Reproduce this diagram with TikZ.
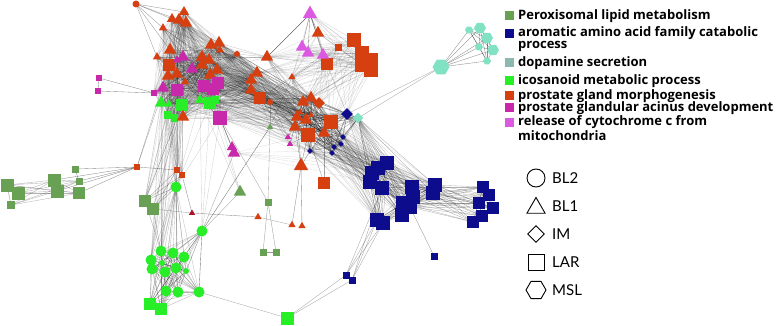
\documentclass[tikz,border=0pt]{standalone}
\usepackage{fontspec}
\setmainfont{Lato}
\newfontfamily\legfont{Open Sans}
\usetikzlibrary{shapes.geometric,backgrounds}
\definecolor{perox}{RGB}{104,160,84}
\definecolor{navyc}{RGB}{12,12,140}
\definecolor{dopc}{RGB}{128,225,195}
\definecolor{dopl}{RGB}{140,185,175}
\definecolor{icoc}{RGB}{40,238,40}
\definecolor{prc}{RGB}{214,64,16}
\definecolor{acin}{RGB}{200,40,170}
\definecolor{cyto}{RGB}{220,90,225}
\definecolor{dred}{RGB}{170,20,40}
\tikzset{
 sq/.style={rectangle,inner sep=0pt,minimum size=#1},
 tri/.style={regular polygon,regular polygon sides=3,inner sep=0pt,minimum size=#1*1.2},
 circ/.style={circle,inner sep=0pt,minimum size=#1},
 dia/.style={diamond,inner sep=0pt,minimum size=#1},
 hexa/.style={regular polygon,regular polygon sides=6,inner sep=0pt,minimum size=#1},
 ed/.style={draw=black,line width=0.35pt,opacity=#1},
 ed/.default=0.25,
 legsq/.style={rectangle,inner sep=0pt,minimum size=9pt},
 legtxt/.style={anchor=west,inner sep=0pt,font=\legfont\fontsize{13}{13}\selectfont\bfseries},
 shptxt/.style={anchor=west,inner sep=0pt,font=\fontsize{15}{15}\selectfont},
 legshape/.style={draw=black,line width=0.9pt,fill=white}
}
\begin{document}
\begin{tikzpicture}[x=1pt,y=-1pt]
\useasboundingbox (0,0) rectangle (778,326);
% ---------- group A
\node[circ=7,fill=prc] (a1) at (136,4) {};
\node[tri=10,fill=prc] (a2) at (184,12) {};
\node[tri=10,fill=prc] (a3) at (172,19) {};
\node[tri=12,fill=prc] (a4) at (179,20) {};
\node[tri=12,fill=prc] (a5) at (186,23) {};
\node[tri=8,fill=prc] (a6) at (163,28) {};
\node[tri=12,fill=prc] (a7) at (170,50) {};
\node[tri=8,fill=prc] (a8) at (157,57) {};
\node[sq=12,fill=prc] (a9) at (169,65) {};
\node[tri=12,fill=prc] (a10) at (211,45) {};
\node[tri=12,fill=prc] (a11) at (219,43) {};
\node[tri=8,fill=prc] (a12) at (220,50) {};
\node[circ=6,fill=prc] (a13) at (237,54) {};
\node[tri=8,fill=acin] (a15) at (177,60) {};
\node[tri=12,fill=acin] (a14) at (183,57) {};
\node[tri=12,fill=prc] (a16) at (202,57) {};
\node[tri=12,fill=prc] (a17) at (209,60) {};
\node[tri=12,fill=prc] (a18) at (202,65) {};
\node[tri=12,fill=acin] (a19) at (192,69) {};
\node[tri=12,fill=prc] (a20) at (217,70) {};
\node[tri=12,fill=prc] (a21) at (210,75) {};
\node[tri=12,fill=prc] (a22) at (177,74) {};
\node[tri=12,fill=prc] (a23) at (168,76) {};
\node[tri=8,fill=prc] (a24) at (185,82) {};
\node[sq=12,fill=acin] (a25) at (177,90) {};
\node[sq=12,fill=acin] (a26) at (204,86) {};
\node[sq=12,fill=acin] (a27) at (213,89) {};
\node[sq=12,fill=acin] (a28) at (218,83) {};
\node[sq=14,fill=acin] (a29) at (220,118) {};
\node[sq=6,fill=acin] (a30) at (154,93) {};
\node[tri=12,fill=acin] (a31) at (163,88) {};
\node[tri=12,fill=icoc] (a32) at (161,103) {};
\node[tri=8,fill=icoc] (a33) at (169,104) {};
\node[tri=10,fill=icoc] (a34) at (200,100) {};
\node[sq=12,fill=icoc] (a35) at (182,105) {};
\node[sq=12,fill=icoc] (a36) at (210,103) {};
\node[sq=8,fill=icoc] (a37) at (215,100) {};
\node[sq=7,fill=icoc] (a38) at (167,115) {};
\node[sq=7,fill=icoc] (a39) at (174,118) {};
\node[tri=12,fill=prc] (a40) at (183,117) {};
\node[tri=12,fill=prc] (a41) at (257,73) {};
\node[tri=12,fill=prc] (a42) at (251,80) {};
\node[tri=12,fill=prc] (a43) at (251,90) {};
\node[sq=12,fill=prc] (a44) at (260,98) {};
\node[circ=6,fill=prc] (a45) at (270,102) {};
\node[tri=10,fill=acin] (a46) at (232,147) {};
\node[tri=12,fill=acin] (a47) at (234,153) {};
\node[sq=6,fill=acin] (m1) at (99,78) {};
\node[sq=6,fill=acin] (m2) at (98,91) {};
% ---------- group C
\node[tri=14,fill=cyto] (c1) at (310,14) {};
\node[tri=12,fill=prc] (c2) at (318,33) {};
\node[sq=14,fill=prc] (c3) at (354,40) {};
\node[sq=14,fill=prc] (c4) at (362,53) {};
\node[sq=14,fill=prc] (c5) at (371,60) {};
\node[sq=14,fill=prc] (c7) at (362,65) {};
\node[sq=14,fill=prc] (c6) at (371,70) {};
\node[sq=12,fill=prc] (c8) at (327,64) {};
\node[sq=7,fill=prc] (c9) at (338,48) {};
\node[tri=12,fill=cyto] (c10) at (302,47) {};
\node[tri=12,fill=cyto] (c11) at (308,53) {};
\node[tri=12,fill=cyto] (c12) at (323,55) {};
\node[tri=12,fill=prc] (c13) at (267,57) {};
\node[tri=7,fill=prc] (c14) at (292,77) {};
% ---------- group B
\node[tri=12,fill=prc] (b1) at (303,102) {};
\node[tri=12,fill=prc] (b2) at (311,98) {};
\node[dia=12,fill=prc] (b3) at (319,103) {};
\node[tri=12,fill=prc] (b4) at (297,117) {};
\node[tri=12,fill=prc] (b5) at (306,120) {};
\node[tri=12,fill=prc] (b6) at (295,127) {};
\node[tri=6,fill=prc] (b7) at (311,115) {};
\node[tri=6,fill=prc] (b8) at (300,112) {};
\node[sq=14,fill=prc] (b9) at (331,122) {};
\node[sq=14,fill=prc] (b10) at (308,135) {};
\node[tri=12,fill=prc] (b11) at (324,133) {};
\node[dia=12,fill=navyc] (b12) at (347,114) {};
\node[dia=6,fill=navyc] (b13) at (343,137) {};
\node[dia=6,fill=navyc] (b14) at (341,144) {};
\node[dia=6,fill=navyc] (b15) at (334,147) {};
\node[dia=6,fill=navyc] (b16) at (332,153) {};
\node[dia=6,fill=navyc] (b17) at (310,151) {};
\node[dia=11,fill=dopc] (b18) at (358,118) {};
\node[tri=6,fill=acin] (b19) at (288,137) {};
\node[tri=6,fill=acin] (b20) at (290,144) {};
\node[tri=6,fill=perox] (b21) at (270,127) {};
\node[tri=14,fill=prc] (b22) at (301,166) {};
% ---------- group E
\node[hexa=17,fill=dopc] (e1) at (441,67) {};
\node[hexa=8,fill=dopc] (e2) at (469,30) {};
\node[hexa=12,fill=dopc] (e3) at (480,28) {};
\node[hexa=12,fill=dopc] (e4) at (487,38) {};
\node[hexa=8,fill=dopc] (e5) at (479,47) {};
\node[hexa=12,fill=dopc] (e6) at (493,50) {};
\node[hexa=8,fill=dopc] (e7) at (487,61) {};
% ---------- group D
\node[sq=14,fill=navyc] (d1) at (387,163) {};
\node[sq=14,fill=navyc] (d2) at (378,168) {};
\node[sq=14,fill=navyc] (d3) at (372,173) {};
\node[sq=14,fill=navyc] (d4) at (370,182) {};
\node[sq=14,fill=navyc] (d5) at (382,188) {};
\node[sq=14,fill=navyc] (d6) at (412,187) {};
\node[sq=14,fill=navyc] (d7) at (413,197) {};
\node[sq=14,fill=navyc] (d8) at (403,203) {};
\node[sq=14,fill=navyc] (d9) at (410,207) {};
\node[sq=14,fill=navyc] (d10) at (402,215) {};
\node[sq=14,fill=navyc] (d11) at (377,220) {};
\node[sq=14,fill=navyc] (d12) at (383,223) {};
\node[sq=14,fill=navyc] (d13) at (435,185) {};
\node[sq=14,fill=navyc] (d14) at (433,193) {};
\node[sq=12,fill=navyc] (d15) at (483,187) {};
\node[sq=12,fill=navyc] (d16) at (489,195) {};
\node[sq=12,fill=navyc] (d17) at (479,203) {};
\node[sq=12,fill=navyc] (d18) at (493,208) {};
\node[sq=12,fill=navyc] (d19) at (482,216) {};
\node[sq=12,fill=navyc] (d20) at (473,222) {};
\node[sq=7,fill=navyc] (d21) at (434,256) {};
\node[sq=7,fill=navyc] (d22) at (346,275) {};
\node[sq=7,fill=navyc] (d23) at (352,280) {};
% ---------- misc
\node[sq=12,fill=prc] (o1) at (324,183) {};
\node[sq=7,fill=perox] (o3) at (268,202) {};
\node[sq=7,fill=perox] (o4) at (263,252) {};
\node[sq=7,fill=perox] (o5) at (276,252) {};
\node[tri=7,fill=prc] (o6) at (258,217) {};
\node[tri=7,fill=prc] (o7) at (292,225) {};
\node[tri=7,fill=prc] (o8) at (302,226) {};
\node[sq=13,fill=icoc] (o9) at (287,318) {};
% ---------- group G / F
\node[sq=13,fill=perox] (g1) at (7,185) {};
\node[sq=13,fill=perox] (g2) at (18,193) {};
\node[sq=8,fill=perox] (g3) at (11,205) {};
\node[sq=13,fill=perox] (g4) at (54,180) {};
\node[sq=13,fill=perox] (g5) at (57,191) {};
\node[sq=12,fill=perox] (g6) at (79,193) {};
\node[sq=7,fill=perox] (g7) at (75,169) {};
\node[sq=7,fill=perox] (g8) at (79,181) {};
\node[sq=12,fill=perox] (g9) at (145,201) {};
\node[sq=12,fill=perox] (g10) at (153,209) {};
\node[sq=6,fill=prc] (f1) at (137,167) {};
\node[sq=6,fill=prc] (f2) at (177,170) {};
\node[sq=6,fill=prc] (f3) at (182,175) {};
\node[circ=11,fill=icoc] (h1) at (176,187) {};
\node[circ=11,fill=icoc] (h2) at (202,231) {};
\node[circ=11,fill=icoc] (h3) at (161,251) {};
\node[circ=11,fill=icoc] (h4) at (173,253) {};
\node[circ=11,fill=icoc] (h5) at (184,257) {};
\node[circ=11,fill=icoc] (h6) at (151,260) {};
\node[circ=11,fill=icoc] (h7) at (152,269) {};
\node[circ=11,fill=icoc] (h8) at (165,272) {};
\node[circ=11,fill=icoc] (h9) at (176,268) {};
\node[circ=6,fill=icoc] (h10) at (162,263) {};
\node[circ=6,fill=icoc] (h11) at (186,271) {};
\node[circ=11,fill=icoc] (h12) at (166,291) {};
\node[circ=11,fill=icoc] (h13) at (178,292) {};
\node[circ=11,fill=icoc] (h14) at (199,292) {};
\node[sq=12,fill=icoc] (h15) at (150,304) {};
\node[sq=12,fill=icoc] (h16) at (161,309) {};
\node[tri=12,fill=perox] (p1) at (240,192) {};
\node[tri=6,fill=dred] (p2) at (192,213) {};
% ---------- edges
\begin{scope}[on background layer]
\foreach \i in {2,...,45}{\foreach \j in {2,...,45}{\ifnum\i<\j \draw[ed=0.14] (a\i.center)--(a\j.center);\fi}}
\foreach \u in {a2,a3,a4,a6,a7,a8} \draw[ed=0.4] (a1.center)--(\u.center);
\foreach \u in {a10,a11,a12,a13,a16,a17,a20,a21,a26,a27,a28,a29,a36,a37,a41,a42,a43,a44,a45,c13,c14}{\foreach \j in {1,...,11}{\draw[ed=0.17] (\u.center)--(b\j.center);}}
\foreach \i in {1,...,18}{\foreach \j in {1,...,18}{\ifnum\i<\j \draw[ed=0.35] (b\i.center)--(b\j.center);\fi}}
\foreach \i in {9,...,18}{\foreach \j in {1,...,14}{\draw[ed=0.16] (b\i.center)--(d\j.center);}}
\foreach \i in {1,...,14}{\foreach \j in {1,...,14}{\ifnum\i<\j \draw[ed=0.3] (d\i.center)--(d\j.center);\fi}}
\foreach \u in {d6,d7,d8,d9,d13,d14}{\foreach \j in {15,...,20}{\draw[ed=0.3] (\u.center)--(d\j.center);}}
\foreach \i in {15,...,20}{\foreach \j in {15,...,20}{\ifnum\i<\j \draw[ed=0.35] (d\i.center)--(d\j.center);\fi}}
\foreach \i in {2,...,7} \draw[ed=0.45] (e1.center)--(e\i.center);
\foreach \i in {2,...,7}{\foreach \j in {2,...,7}{\ifnum\i<\j \draw[ed=0.45] (e\i.center)--(e\j.center);\fi}}
\draw[ed=0.35] (e1.center)--(b18.center);
\draw[ed=0.35] (e1.center)--(b12.center);
\foreach \j in {1,...,14} \draw[ed=0.15] (b18.center)--(d\j.center);
\foreach \i in {1,...,14}{\foreach \j in {1,...,14}{\ifnum\i<\j \draw[ed=0.15] (c\i.center)--(c\j.center);\fi}}
\foreach \u in {c3,c4,c5,c6,c7,c8,c9,c12}{\foreach \v in {b1,b2,b3,b9,b12,a41,a44}{\draw[ed=0.15] (\u.center)--(\v.center);}}
\foreach \u in {a10,a11,a16,a17,a20,a13} \draw[ed=0.22] (\u.center)--(c13.center);
\draw[ed=0.7] (c13.center)--(c1.center);
\foreach \u in {c10,c11,c2,c12,c8} \draw[ed=0.35] (c1.center)--(\u.center);
\foreach \i in {3,...,16}{\foreach \j in {3,...,16}{\ifnum\i<\j \draw[ed=0.3] (h\i.center)--(h\j.center);\fi}}
\foreach \i in {3,...,16} \draw[ed=0.25] (h1.center)--(h\i.center);
\foreach \i in {3,...,16} \draw[ed=0.25] (h2.center)--(h\i.center);
\foreach \u in {a32,a33,a35,a38,a39,a40,a22,a23,a25,a31}{\foreach \v in {h1,f2,f3,h3,h6,g9}{\draw[ed=0.15] (\u.center)--(\v.center);}}
\foreach \u in {a29,a36,a37,a34,a27,a47}{\foreach \v in {d1,d2,d3,d4,b10,b17}{\draw[ed=0.12] (\u.center)--(\v.center);}}
\foreach \u in {a29,a36,a34}{\foreach \v in {h1,h2,p1,b21}{\draw[ed=0.18] (\u.center)--(\v.center);}}
\draw[ed=0.45] (a29.center)--(a46.center);
\draw[ed=0.45] (a29.center)--(a47.center);
\draw[ed=0.45] (a30.center)--(m1.center);
\draw[ed=0.45] (a30.center)--(m2.center);
\draw[ed=0.45] (m1.center)--(m2.center);
\foreach \u in {g1,g2,g3,g4,g5} \foreach \v in {g4,g5,g6,g8} \draw[ed=0.3] (\u.center)--(\v.center);
\foreach \u in {g4,g5,g6,g7,g8} \draw[ed=0.45] (\u.center)--(f1.center);
\draw[ed=0.45] (g7.center)--(g8.center);
\draw[ed=0.45] (g1.center)--(g3.center);
\draw[ed=0.45] (f1.center)--(f2.center);
\draw[ed=0.35] (f1.center)--(a9.center);
\draw[ed=0.35] (f1.center)--(a23.center);
\draw[ed=0.35] (f2.center)--(f3.center);
\draw[ed=0.35] (f2.center)--(h1.center);
\draw[ed=0.35] (f3.center)--(h1.center);
\foreach \u in {g9,g10} \foreach \v in {h1,f2,f3,a35,h3} \draw[ed=0.35] (\u.center)--(\v.center);
\draw[ed=0.35] (g10.center)--(p2.center);
\draw[ed=0.45] (p2.center)--(o6.center);
\draw[ed=0.45] (p2.center)--(f3.center);
\draw[ed=0.35] (p1.center)--(h2.center);
\draw[ed=0.55] (h2.center)--(b21.center);
\draw[ed=0.35] (h2.center)--(a47.center);
\draw[ed=0.35] (h14.center)--(o9.center);
\draw[ed=0.35] (h2.center)--(h14.center);
\foreach \u in {d22,d23} \foreach \v in {o9,d11,d12,d5} \draw[ed=0.35] (\u.center)--(\v.center);
\draw[ed=0.45] (d22.center)--(d23.center);
\draw[ed=0.4] (d21.center)--(d9.center);
\draw[ed=0.4] (o3.center)--(o4.center);
\draw[ed=0.4] (o3.center)--(o5.center);
\draw[ed=0.4] (o4.center)--(o5.center);
\draw[ed=0.35] (o3.center)--(a29.center);
\draw[ed=0.35] (o3.center)--(b21.center);
\foreach \v in {o7,o8,b6,b10,b17,b4} \draw[ed=0.45] (b22.center)--(\v.center);
\draw[ed=0.35] (o6.center)--(o7.center);
\draw[ed=0.35] (o1.center)--(b10.center);
\draw[ed=0.35] (o1.center)--(b11.center);
\foreach \v in {a44,a45,b1,b4,c14} \draw[ed=0.25] (b21.center)--(\v.center);
\foreach \v in {b4,b6,a41,a44} \draw[ed=0.3] (b19.center)--(\v.center);
\foreach \v in {b4,b6,b10,a44} \draw[ed=0.3] (b20.center)--(\v.center);
\end{scope}
% ---------- legend
\node[legsq,fill=perox] (l1) at (509,16) {};
\node[legtxt] (t1) at (518,16) {Peroxisomal lipid metabolism};
\node[legsq,fill=navyc] (l2) at (509,34) {};
\node[legtxt] (t2) at (518,33) {aromatic amino acid family catabolic};
\node[legtxt] (t2b) at (518,46) {process};
\node[legsq,fill=dopl] (l3) at (509,63) {};
\node[legtxt] (t3) at (518,63) {dopamine secretion};
\node[legsq,fill=icoc] (l4) at (509,81) {};
\node[legtxt] (t4) at (518,81) {icosanoid metabolic process};
\node[legsq,fill=prc] (l5) at (509,96) {};
\node[legtxt] (t5) at (518,96) {prostate gland morphogenesis};
\node[legsq,fill=acin] (l6) at (509,108) {};
\node[legtxt] (t6) at (518,108) {prostate glandular acinus development};
\node[legsq,fill=cyto] (l7) at (509,122) {};
\node[legtxt] (t7) at (518,122) {release of cytochrome c from};
\node[legtxt] (t7b) at (518,136) {mitochondria};
% shape legend
\node[legshape,circle,minimum size=18pt,inner sep=0pt] (s1) at (536,178) {};
\node[shptxt] (u1) at (552,178) {BL2};
\node[legshape,regular polygon,regular polygon sides=3,minimum size=21pt,inner sep=0pt] (s2) at (536,208) {};
\node[shptxt] (u2) at (552,206) {BL1};
\node[legshape,diamond,minimum size=17pt,inner sep=0pt] (s3) at (536,234) {};
\node[shptxt] (u3) at (552,234) {IM};
\node[legshape,rectangle,minimum size=16pt,inner sep=0pt] (s4) at (536,262) {};
\node[shptxt] (u4) at (552,262) {LAR};
\node[legshape,regular polygon,regular polygon sides=6,minimum size=20pt,inner sep=0pt] (s5) at (536,290) {};
\node[shptxt] (u5) at (552,290) {MSL};
\end{tikzpicture}
\end{document}
